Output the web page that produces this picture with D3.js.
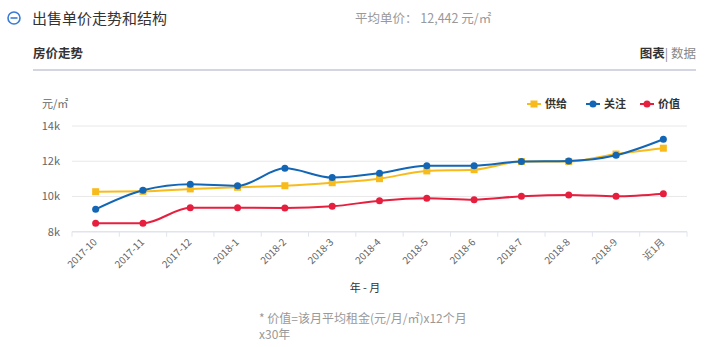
<!DOCTYPE html>
<html><head><meta charset="utf-8">
<script src="https://cdn.jsdelivr.net/npm/d3@7/dist/d3.min.js"></script>
<style>body{margin:0;background:#fff;font-family:"Noto Sans CJK SC","Noto Sans",sans-serif;}</style>
</head><body>
<svg id="c" width="712" height="347"></svg>
<script>
const categories = ["2017-10","2017-11","2017-12","2018-1","2018-2","2018-3","2018-4","2018-5","2018-6","2018-7","2018-8","2018-9","近1月"];
const supplyValues = [10270,10290,10430,10520,10610,10780,11010,11450,11520,11980,11980,12410,12740];
const attentionValues = [9270,10350,10690,10610,11600,11070,11320,11750,11750,11990,12020,12340,13250];
const worthValues = [8480,8480,9360,9360,9350,9440,9760,9900,9820,10010,10090,10010,10160];
const yTicks = [8000,10000,12000,14000];
const seriesNames = ["供给","关注","价值"];
const seriesColors = ["#f8bb1c","#1266b5","#e71f3f"];

const svg = d3.select("#c");
const font = '"Noto Sans CJK SC","Noto Sans",sans-serif';

// Header
svg.append("circle").attr("cx",14).attr("cy",18).attr("r",6).attr("fill","none").attr("stroke","#3a7bd5").attr("stroke-width",1.6);
svg.append("line").attr("x1",10.5).attr("x2",17.5).attr("y1",18).attr("y2",18).attr("stroke","#3a7bd5").attr("stroke-width",1.6);
svg.append("text").attr("x",32).attr("y",23.5).attr("font-size",15).attr("fill","#333").attr("font-family",font).text("出售单价走势和结构");
svg.append("text").attr("x",355).attr("y",22.5).attr("font-size",12.5).attr("fill","#999").attr("font-family",font).text("平均单价：  12,442 元/㎡");
svg.append("text").attr("x",33).attr("y",58).attr("font-size",12.5).attr("font-weight","bold").attr("fill","#333").attr("font-family",font).text("房价走势");
const tt = svg.append("text").attr("x",696).attr("y",58).attr("font-size",12.5).attr("text-anchor","end").attr("font-family",font);
tt.append("tspan").attr("font-weight","bold").attr("fill","#333").text("图表");
tt.append("tspan").attr("fill","#888").text("| 数据");
svg.append("rect").attr("x",33).attr("y",69).attr("width",663).attr("height",2).attr("fill","#d3d6e0");

// Scales
const x = d3.scaleBand().domain(categories).range([72,687]);
const y = d3.scaleLinear().domain([8000,14000]).range([231.7,126]);
const cx = d => x(d) + x.bandwidth()/2;

// Grid
svg.append("g").selectAll("line").data(yTicks.slice(1)).join("line")
  .attr("x1",72).attr("x2",687).attr("y1",d=>y(d)).attr("y2",d=>y(d)).attr("stroke","#e8e8e8").attr("stroke-width",1);

// Y axis labels
svg.append("g").selectAll("text").data(yTicks).join("text")
  .attr("x",60).attr("y",d=>y(d)+4).attr("text-anchor","end").attr("font-size",11).attr("fill","#666").attr("font-family",font)
  .text(d=>d3.format("d")(d/1000)+"k");
svg.append("text").attr("x",42).attr("y",108).attr("font-size",11).attr("fill","#666").attr("font-family",font).text("元/㎡");

// X axis
const xAxisG = svg.append("g").attr("transform","translate(0,231.7)");
xAxisG.append("line").attr("x1",72).attr("x2",687).attr("stroke","#dfe4ef").attr("stroke-width",1.5);
const bounds = categories.map(c=>x(c)).concat([687]);
xAxisG.selectAll("line.t").data(bounds).join("line").attr("class","t")
  .attr("x1",d=>d).attr("x2",d=>d).attr("y1",0).attr("y2",5).attr("stroke","#dfe4ef").attr("stroke-width",1);
xAxisG.selectAll("text").data(categories).join("text")
  .attr("transform",d=>`translate(${cx(d)+2},11) rotate(-45)`)
  .attr("text-anchor","end").attr("font-size",10).attr("fill","#666").attr("font-family",font).text(d=>d);
svg.append("text").attr("x",365).attr("y",292).attr("text-anchor","middle").attr("font-size",11).attr("fill","#333").attr("font-family",font).text("年 - 月");

// Lines
const allSeries = [supplyValues, attentionValues, worthValues];
const line = d3.line().x((d,i)=>cx(categories[i])).y(d=>y(d)).curve(d3.curveMonotoneX);
// draw order: worth, supply, attention
[2,0,1].forEach(k=>{
  const vals = allSeries[k];
  svg.append("path").attr("d",line(vals)).attr("fill","none").attr("stroke",seriesColors[k]).attr("stroke-width",2);
  const g = svg.append("g");
  if(k===0){
    g.selectAll("rect").data(vals).join("rect")
      .attr("x",(d,i)=>cx(categories[i])-3.5).attr("y",d=>y(d)-3.5).attr("width",7).attr("height",7).attr("fill",seriesColors[k]);
  } else {
    g.selectAll("circle").data(vals).join("circle")
      .attr("cx",(d,i)=>cx(categories[i])).attr("cy",d=>y(d)).attr("r",3.5).attr("fill",seriesColors[k]);
  }
});

// Legend
const legX = [527,586,640];
seriesNames.forEach((n,k)=>{
  const g = svg.append("g").attr("transform",`translate(${legX[k]},104)`);
  g.append("line").attr("x1",0).attr("x2",14).attr("stroke",seriesColors[k]).attr("stroke-width",2);
  if(k===0) g.append("rect").attr("x",3.5).attr("y",-3.5).attr("width",7).attr("height",7).attr("fill",seriesColors[k]);
  else g.append("circle").attr("cx",7).attr("cy",0).attr("r",3.5).attr("fill",seriesColors[k]);
  g.append("text").attr("x",18).attr("y",4).attr("font-size",11).attr("font-weight","bold").attr("fill","#333").attr("font-family",font).text(n);
});

// Footnote
svg.append("text").attr("x",259).attr("y",323).attr("font-size",12).attr("fill","#999").attr("font-family",font).text("* 价值=该月平均租金(元/月/㎡)x12个月");
svg.append("text").attr("x",259).attr("y",339).attr("font-size",12).attr("fill","#999").attr("font-family",font).text("x30年");
</script>
</body></html>
